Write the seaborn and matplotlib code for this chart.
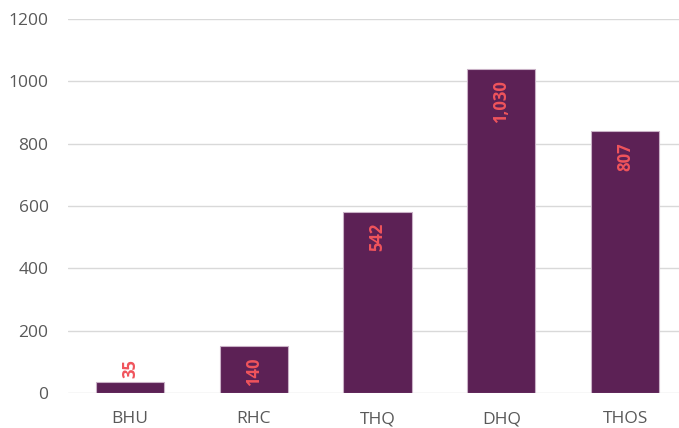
import numpy as np
import pandas as pd
import matplotlib
matplotlib.use('Agg')
import matplotlib.pyplot as plt
import seaborn as sns

# values
facilities = ['BHU', 'RHC', 'THQ', 'DHQ', 'THOS']
bar_heights = [35, 150, 582, 1040, 841]
bar_labels = ['35', '140', '542', '1,030', '807']
y_ticks = [0, 200, 400, 600, 800, 1000, 1200]

df = pd.DataFrame({'facility': facilities, 'value': bar_heights})

sns.set_theme(style='white')
plt.rcParams['font.family'] = ['Open Sans', 'DejaVu Sans']

fig = plt.figure(figsize=(6.79, 4.28), dpi=100)
ax = fig.add_axes([68 / 679, 35 / 428, 611 / 679, 374 / 428])

sns.barplot(data=df, x='facility', y='value', color='#5C2155', saturation=1,
            width=0.55, edgecolor='#c9b1c6', linewidth=0.8, ax=ax, zorder=3)

ax.set_ylim(0, 1200)
ax.set_xlim(-0.5, 4.435)
ax.set_yticks(y_ticks)
ax.yaxis.grid(True, color='#d9d9d9', linewidth=1, zorder=0)
ax.set_axisbelow(True)
sns.despine(ax=ax, left=True, bottom=True, top=True, right=True)
ax.tick_params(axis='both', length=0, labelsize=12.5, labelcolor='#595959')
ax.tick_params(axis='y', pad=14)
ax.tick_params(axis='x', pad=13)
ax.set_xlabel('')
ax.set_ylabel('')

# data labels, rotated; inside the bar end unless the bar is too short
for patch, lab in zip(ax.patches, bar_labels):
    x = patch.get_x() + patch.get_width() / 2
    h = patch.get_height()
    if h < 100:
        ax.annotate(lab, (x, h), xytext=(0, 3), textcoords='offset points',
                    rotation=90, ha='center', va='bottom',
                    color='#F0545C', fontsize=12, fontweight='bold')
    else:
        ax.annotate(lab, (x, h), xytext=(0, -8), textcoords='offset points',
                    rotation=90, ha='center', va='top',
                    color='#F0545C', fontsize=12, fontweight='bold')

fig.savefig('out.png', dpi=100)
